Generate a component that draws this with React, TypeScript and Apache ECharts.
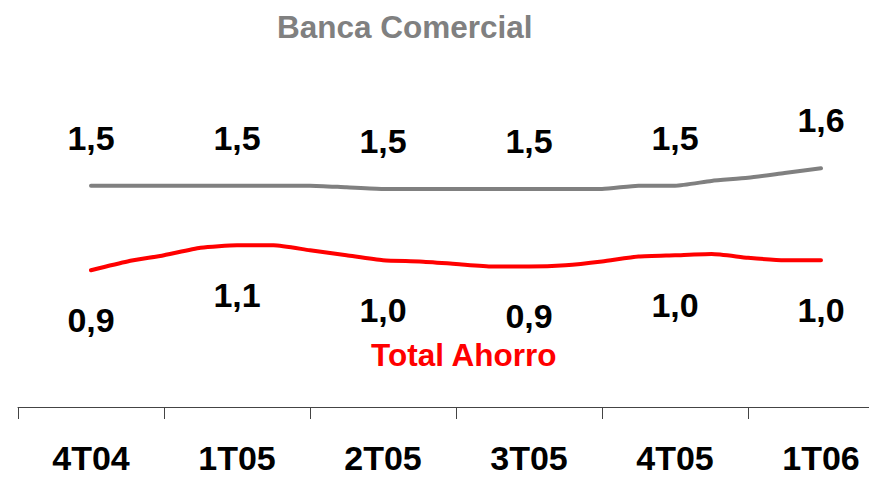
import React, { useEffect, useRef } from "react";
import * as echarts from "echarts";

// Quarters shown on the axis
const categories = ["4T04", "1T05", "2T05", "3T05", "4T05", "1T06"];

// Sub-period readings (4 steps per quarter, from 4T04 to 1T06)
const bancaComercial = [
  1.49, 1.49, 1.49, 1.49, 1.49, 1.49, 1.49, 1.48, 1.47, 1.47, 1.47,
  1.47, 1.47, 1.47, 1.47, 1.49, 1.49, 1.52, 1.54, 1.57, 1.6,
];
const totalAhorro = [
  0.9, 0.97, 1.02, 1.08, 1.1, 1.1, 1.06, 1.02, 0.98, 0.97, 0.95,
  0.93, 0.93, 0.94, 0.97, 1.01, 1.02, 1.03, 1.0, 0.98, 0.98,
];

const seriesNames = ["Banca Comercial", "Total Ahorro"];

const NARROW = "'Liberation Sans Narrow', 'Arial Narrow', 'Liberation Sans', Arial, sans-serif";
const WIDE = "'Liberation Sans', Arial, sans-serif";

const fmt = (v: number) => v.toFixed(1).replace(".", ",");

function buildData(values: number[]) {
  return values.map((v, i) => ({
    value: [0.5 + i / 4, v],
    label: { show: i % 4 === 0 },
  }));
}

export default function App() {
  const ref = useRef<HTMLDivElement>(null);
  useEffect(() => {
    if (!ref.current) return;
    const chart = echarts.init(ref.current, undefined, { renderer: "svg" });
    chart.setOption({
      animation: false,
      backgroundColor: "#ffffff",
      title: [
        {
          text: seriesNames[0],
          left: 277,
          top: 11,
          padding: 0,
          textStyle: { fontFamily: WIDE, fontSize: 31.5, fontWeight: "bold", color: "#808080" },
        },
        {
          text: seriesNames[1],
          left: 371,
          top: 339,
          padding: 0,
          textStyle: { fontFamily: WIDE, fontSize: 31.5, fontWeight: "bold", color: "#ff0000" },
        },
      ],
      grid: {
        left: 18,
        width: 876,
        top: 9,
        bottom: 71,
        containLabel: false,
        outerBoundsMode: "none",
      },
      xAxis: [
        {
          type: "category",
          data: categories,
          boundaryGap: true,
          axisLine: { show: true, onZero: false, lineStyle: { color: "#444", width: 1 } },
          axisTick: { show: true, length: 12, lineStyle: { color: "#444", width: 1 } },
          axisLabel: {
            margin: 34,
            fontFamily: NARROW,
            fontSize: 34,
            fontWeight: "bold",
            color: "#000",
          },
          splitLine: { show: false },
        },
        {
          type: "value",
          min: 0,
          max: 6,
          show: false,
        },
      ],
      yAxis: [
        { type: "value", min: 0.1, max: 2.6, show: false, splitLine: { show: false } },
        { type: "value", min: -0.2, max: 3.0, show: false, splitLine: { show: false } },
      ],
      series: [
        {
          name: seriesNames[0],
          type: "line",
          xAxisIndex: 1,
          yAxisIndex: 0,
          data: buildData(bancaComercial),
          smooth: 0.2,
          showSymbol: true,
          showAllSymbol: true,
          symbol: "circle",
          symbolSize: 2,
          itemStyle: { color: "#808080" },
          lineStyle: { color: "#808080", width: 4, cap: "round" },
          label: {
            position: "top",
            distance: 30,
            formatter: (p: any) => fmt(p.value[1]),
            fontFamily: NARROW,
            fontSize: 34,
            fontWeight: "bold",
            color: "#000",
          },
        },
        {
          name: seriesNames[1],
          type: "line",
          xAxisIndex: 1,
          yAxisIndex: 1,
          data: buildData(totalAhorro),
          smooth: 0.2,
          showSymbol: true,
          showAllSymbol: true,
          symbol: "circle",
          symbolSize: 2,
          itemStyle: { color: "#ff0000" },
          lineStyle: { color: "#ff0000", width: 4, cap: "round" },
          label: {
            position: "bottom",
            distance: 32,
            formatter: (p: any) => fmt(p.value[1]),
            fontFamily: NARROW,
            fontSize: 34,
            fontWeight: "bold",
            color: "#000",
          },
        },
      ],
    });
    return () => chart.dispose();
  }, []);
  return <div ref={ref} style={{ width: 877, height: 478, margin: -8 }} />;
}
